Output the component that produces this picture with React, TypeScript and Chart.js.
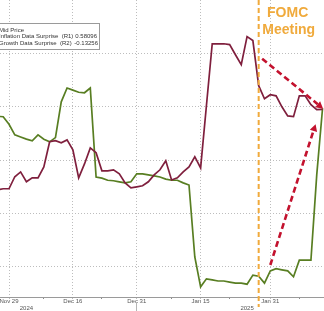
import React, { useEffect, useRef } from 'react';
import { Chart, registerables } from 'chart.js';

Chart.register(...registerables);

// ---------- data ----------
const dates = [
  '2024-11-27', '2024-11-28', '2024-11-29',
  '2024-12-02', '2024-12-03', '2024-12-04', '2024-12-05', '2024-12-06',
  '2024-12-09', '2024-12-10', '2024-12-11', '2024-12-12', '2024-12-13',
  '2024-12-16', '2024-12-17', '2024-12-18', '2024-12-19', '2024-12-20',
  '2024-12-23', '2024-12-24', '2024-12-25', '2024-12-26', '2024-12-27',
  '2024-12-30', '2024-12-31', '2025-01-01', '2025-01-02', '2025-01-03',
  '2025-01-06', '2025-01-07', '2025-01-08', '2025-01-09', '2025-01-10',
  '2025-01-13', '2025-01-14', '2025-01-15', '2025-01-16', '2025-01-17',
  '2025-01-20', '2025-01-21', '2025-01-22', '2025-01-23', '2025-01-24',
  '2025-01-27', '2025-01-28', '2025-01-29', '2025-01-30', '2025-01-31',
  '2025-02-03', '2025-02-04', '2025-02-05', '2025-02-06', '2025-02-07',
  '2025-02-10', '2025-02-11', '2025-02-12', '2025-02-13',
];

// Inflation Data Surprise (R1)
const inflation = [
  0.289, 0.293, 0.293,
  0.338, 0.356, 0.319, 0.334, 0.334,
  0.375, 0.469, 0.473, 0.465, 0.476,
  0.439, 0.334, 0.386, 0.446, 0.428,
  0.360, 0.360, 0.364, 0.349, 0.315,
  0.296, 0.300, 0.304, 0.319, 0.345,
  0.364, 0.398, 0.326, 0.334, 0.356,
  0.375, 0.413, 0.371, 0.604, 0.836,
  0.836, 0.836, 0.833, 0.795, 0.758,
  0.863, 0.848, 0.679, 0.630, 0.645,
  0.641, 0.600, 0.566, 0.563, 0.641,
  0.641, 0.608, 0.589, 0.590,
];

// Growth Data Surprise (R2)
const growth = [
  -0.148, -0.149, -0.163,
  -0.183, -0.187, -0.191, -0.194, -0.183,
  -0.191, -0.196, -0.188, -0.121, -0.095,
  -0.099, -0.103, -0.104, -0.095, -0.262,
  -0.264, -0.268, -0.269, -0.271, -0.273,
  -0.271, -0.256, -0.256, -0.258, -0.260,
  -0.262, -0.266, -0.268, -0.268, -0.273,
  -0.277, -0.412, -0.468, -0.453, -0.455,
  -0.457, -0.457, -0.459, -0.461, -0.461,
  -0.463, -0.446, -0.448, -0.461, -0.438,
  -0.434, -0.436, -0.438, -0.449, -0.418,
  -0.418, -0.418, -0.258, -0.133,
];

const majorTickDates = ['2024-11-29', '2024-12-16', '2024-12-31', '2025-01-15', '2025-01-31', '2025-02-17'];
const majorTickLabels = ['Nov 29', 'Dec 16', 'Dec 31', 'Jan 15', 'Jan 31', 'Feb 17'];
const minorTickDates = ['2024-12-09', '2024-12-23', '2025-01-08', '2025-01-22', '2025-02-07'];
const yearLabels = ['2024', '2025'];
const yearLabelDates = ['2024-12-04', '2025-01-27'];
const yearBoundaryDate = '2024-12-31';

const legendTitle = 'Mid Price';
const legendLabels = ['Inflation Data Surprise  (R1)', 'Growth Data Surprise  (R2)'];
const legendValues = ['0.58096', '-0.13256'];

const fomcDate = '2025-01-29';
const fomcText = ['FOMC', 'Meeting'];

// dashed trend arrows, in data units: [date, weekday shift, value]
const inflationArrow = { from: ['2025-01-29', 0.6, 0.78], to: ['2025-02-13', 0.1, 0.593] };
const growthArrow = { from: ['2025-01-31', 0, -0.427], to: ['2025-02-12', -0.2, -0.163] };

// ---------- helpers ----------
const DAY = 86400000;
function toUTC(iso: string): number {
  const [y, m, d] = iso.split('-').map(Number);
  return Date.UTC(y, m - 1, d);
}
const BASE = toUTC('2024-11-29');
function wd(iso: string): number {
  const t = toUTC(iso);
  let n = 0;
  if (t > BASE) {
    for (let c = BASE + DAY; c <= t; c += DAY) {
      const g = new Date(c).getUTCDay();
      if (g !== 0 && g !== 6) n++;
    }
  } else if (t < BASE) {
    for (let c = t; c < BASE; c += DAY) {
      const g = new Date(c).getUTCDay();
      if (g !== 0 && g !== 6) n--;
    }
  }
  return n;
}

const RED = '#7f1f3d';
const GREEN = '#587e22';
const GRID = '#bdbdbd';
const ORANGE = '#f0aa3c';
const ARROW = '#c3122e';
const FONT = '"Liberation Sans", Arial, sans-serif';

const X_MIN = wd('2024-11-29') - 1.55;
const X_MAX = wd('2025-02-13') + 0.25;

function drawArrow(ctx: CanvasRenderingContext2D, x1: number, y1: number, x2: number, y2: number) {
  const ang = Math.atan2(y2 - y1, x2 - x1);
  const headLen = 7;
  const headW = 3.8;
  const bx = x2 - headLen * Math.cos(ang);
  const by = y2 - headLen * Math.sin(ang);
  ctx.save();
  ctx.strokeStyle = ARROW;
  ctx.fillStyle = ARROW;
  ctx.lineWidth = 2.6;
  ctx.setLineDash([6, 3.5]);
  ctx.beginPath();
  ctx.moveTo(x1, y1);
  ctx.lineTo(bx, by);
  ctx.stroke();
  ctx.setLineDash([]);
  ctx.beginPath();
  ctx.moveTo(x2, y2);
  ctx.lineTo(bx + headW * Math.sin(ang), by - headW * Math.cos(ang));
  ctx.lineTo(bx - headW * Math.sin(ang), by + headW * Math.cos(ang));
  ctx.closePath();
  ctx.fill();
  ctx.restore();
}

const annotations = {
  id: 'annotations',
  afterDatasetsDraw(chart: any) {
    const ctx: CanvasRenderingContext2D = chart.ctx;
    const { x, y, y2 } = chart.scales;
    const area = chart.chartArea;

    // FOMC line
    const fx = x.getPixelForValue(wd(fomcDate));
    ctx.save();
    ctx.strokeStyle = ORANGE;
    ctx.lineWidth = 2;
    ctx.setLineDash([5, 3]);
    ctx.beginPath();
    ctx.moveTo(fx, area.top);
    ctx.lineTo(fx, area.bottom + 10);
    ctx.stroke();
    ctx.setLineDash([]);
    ctx.fillStyle = ORANGE;
    ctx.font = `bold 14px ${FONT}`;
    ctx.textAlign = 'center';
    ctx.textBaseline = 'alphabetic';
    ctx.fillText(fomcText[0], fx + 29, area.top + 17);
    ctx.fillText(fomcText[1], fx + 30, area.top + 34);
    ctx.restore();

    // arrows
    const a1 = inflationArrow;
    drawArrow(
      ctx,
      x.getPixelForValue(wd(a1.from[0] as string) + (a1.from[1] as number)), y.getPixelForValue(a1.from[2] as number),
      x.getPixelForValue(wd(a1.to[0] as string) + (a1.to[1] as number)), y.getPixelForValue(a1.to[2] as number),
    );
    const a2 = growthArrow;
    drawArrow(
      ctx,
      x.getPixelForValue(wd(a2.from[0] as string) + (a2.from[1] as number)), y2.getPixelForValue(a2.from[2] as number),
      x.getPixelForValue(wd(a2.to[0] as string) + (a2.to[1] as number)), y2.getPixelForValue(a2.to[2] as number),
    );

    // legend box (left part cropped)
    ctx.save();
    ctx.fillStyle = '#ffffff';
    ctx.fillRect(-6, area.top + 23, 106, 26);
    ctx.strokeStyle = '#9a9a9a';
    ctx.lineWidth = 1;
    ctx.strokeRect(-5.5, area.top + 23.5, 105, 26);
    ctx.font = `6px ${FONT}`;
    ctx.fillStyle = '#333333';
    ctx.textBaseline = 'middle';
    ctx.textAlign = 'left';
    ctx.fillText(legendTitle, -1, area.top + 30);
    ctx.fillText(legendLabels[0], -1, area.top + 36.8);
    ctx.fillText(legendLabels[1], -1, area.top + 43.6);
    ctx.textAlign = 'right';
    ctx.fillText(legendValues[0], 97, area.top + 36.8);
    ctx.fillText(legendValues[1], 98, area.top + 43.6);
    ctx.restore();
  },
};

export default function App() {
  const ref = useRef<HTMLCanvasElement>(null);

  useEffect(() => {
    const canvas = ref.current;
    if (!canvas) return;

    const inflationPts = dates.map((d, i) => ({ x: wd(d), y: inflation[i] }));
    const growthPts = dates.map((d, i) => ({ x: wd(d), y: growth[i] }));

    const chart = new Chart(canvas, {
      type: 'line',
      data: {
        datasets: [
          {
            label: 'Inflation Data Surprise (R1)',
            data: inflationPts,
            borderColor: RED,
            borderWidth: 1.7,
            pointRadius: 0,
            tension: 0,
            yAxisID: 'y',
            xAxisID: 'x',
            order: 0,
          },
          {
            label: 'Growth Data Surprise (R2)',
            data: growthPts,
            borderColor: GREEN,
            borderWidth: 1.7,
            pointRadius: 0,
            tension: 0,
            yAxisID: 'y2',
            xAxisID: 'x',
            order: 1,
          },
        ],
      },
      options: {
        responsive: false,
        animation: false,
        devicePixelRatio: 1,
        layout: { padding: 0 },
        events: [],
        plugins: {
          legend: { display: false },
          tooltip: { enabled: false },
        },
        scales: {
          x: {
            type: 'linear',
            position: 'bottom',
            weight: 0,
            min: X_MIN,
            max: X_MAX,
            afterBuildTicks: (s: any) => {
              const major = majorTickDates.map((d, i) => ({ value: wd(d), lbl: majorTickLabels[i] }));
              const minor = minorTickDates.map((d) => ({ value: wd(d), lbl: '', minor: true }));
              s.ticks = [...major, ...minor].sort((a, b) => a.value - b.value);
            },
            ticks: {
              autoSkip: false,
              maxRotation: 0,
              minRotation: 0,
              padding: -1,
              color: '#555555',
              font: { family: FONT, size: 6, lineHeight: 1 },
              callback: (_v: any, i: number, ticks: any[]) => ticks[i].lbl,
            },
            grid: {
              color: (c: any) => (c.tick && c.tick.minor ? 'rgba(0,0,0,0)' : GRID),
              tickLength: 2,
              tickColor: (c: any) => (c.tick && c.tick.minor ? '#8a8a8a' : GRID),
              tickBorderDash: [],
            },
            border: { display: true, color: '#9a9a9a', width: 1, dash: [1, 2] },
            afterFit: (s: any) => {
              s.height = 6;
              s.paddingLeft = 0;
              s.paddingRight = 0;
            },
          },
          x2: {
            type: 'linear',
            position: 'bottom',
            weight: 1,
            min: X_MIN,
            max: X_MAX,
            afterBuildTicks: (s: any) => {
              const yrs = yearLabelDates.map((d, i) => ({ value: wd(d), lbl: yearLabels[i] }));
              s.ticks = [...yrs, { value: wd(yearBoundaryDate), lbl: '', sep: true }].sort((a: any, b: any) => a.value - b.value);
            },
            ticks: {
              autoSkip: false,
              maxRotation: 0,
              minRotation: 0,
              padding: -6,
              color: '#555555',
              font: { family: FONT, size: 6, lineHeight: 1 },
              callback: (_v: any, i: number, ticks: any[]) => ticks[i].lbl,
            },
            grid: {
              drawOnChartArea: false,
              tickLength: 8,
              color: 'rgba(0,0,0,0)',
              tickColor: (c: any) => (c.tick && c.tick.sep ? '#b5b5b5' : 'rgba(0,0,0,0)'),
            },
            border: { display: false },
            afterFit: (s: any) => {
              s.height = 8;
              s.paddingLeft = 0;
              s.paddingRight = 0;
            },
          },
          y: {
            type: 'linear',
            position: 'left',
            min: -0.1125,
            max: 1.0,
            ticks: { display: false, stepSize: 0.2 },
            grid: {
              drawTicks: false,
              color: (c: any) => (c.tick && (c.tick.value < -0.05 || c.tick.value > 0.95) ? 'rgba(0,0,0,0)' : GRID),
            },
            border: { display: false, dash: [1, 2] },
            afterFit: (s: any) => {
              s.width = 0;
              s.paddingTop = 0;
              s.paddingBottom = 0;
            },
          },
          y2: {
            type: 'linear',
            position: 'right',
            display: false,
            min: -0.487,
            max: 0.07,
          },
        },
      } as any,
      plugins: [annotations],
    });

    return () => chart.destroy();
  }, []);

  return (
    <div style={{ position: 'absolute', left: 0, top: 0, width: 324, height: 311, background: '#ffffff', overflow: 'hidden' }}>
      <canvas ref={ref} width={324} height={311} style={{ display: 'block', width: 324, height: 311 }} />
    </div>
  );
}
